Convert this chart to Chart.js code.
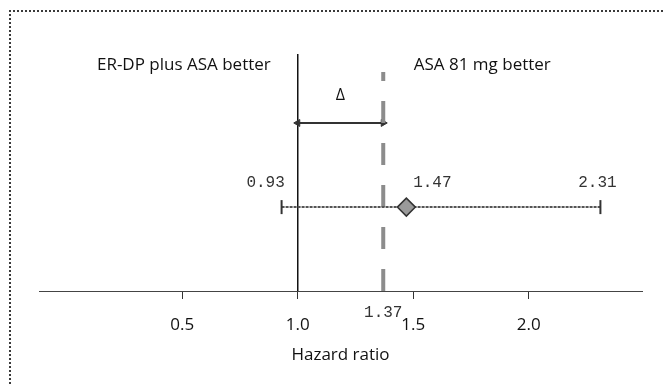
<!DOCTYPE html>
<html>
<head>
<meta charset="utf-8">
<script src="https://cdn.jsdelivr.net/npm/chart.js@4.4.1/dist/chart.umd.min.js"></script>
<style>
    html, body { margin: 0; padding: 0; background: #fff; }
    #wrap { position: relative; width: 665px; height: 385px; overflow: hidden; }
    #frame {
        position: absolute; left: 9px; top: 10px; width: 700px; height: 400px;
        border-top: 2px dotted #3a3a3a; border-left: 2px dotted #3a3a3a;
    }
    canvas { position: absolute; left: 0; top: 0; }
</style>
</head>
<body>
<div id="wrap">
    <div id="frame"></div>
    <canvas id="forestChart" width="665" height="385"></canvas>
</div>
<script>
// ================================
// Data
// ================================

const tickValues = [0.5, 1.0, 1.5, 2.0];

const hazardRatio = [1.47];

const ciBounds = [0.93, 2.31];

const marginValue = [1.37];

const noEffect = [1.0];

const sideLabels = ["ER-DP plus ASA better", "ASA 81 mg better"];

const axisTitle = "Hazard ratio";

const deltaLabel = "\u0394";

// ================================
// Layout (rows on a hidden 0..1 y scale)
// ================================

const ROW_CI = 0.354;
const ROW_ARROW = 0.709;
const DASH_TOP = 0.924;

const textFont = "'Open Sans', 'Noto Sans', sans-serif";
const numFont = "'Liberation Mono', 'DejaVu Sans Mono', monospace";

// ================================
// Labels plugin
// ================================

const labelPlugin = {
    id: "forestLabels",
    afterDatasetsDraw(chart) {
        const ctx = chart.ctx;
        const xs = chart.scales.x;
        const ys = chart.scales.y;
        const area = chart.chartArea;

        const ciY = ys.getPixelForValue(ROW_CI);
        const arrowY = ys.getPixelForValue(ROW_ARROW);
        const refX = xs.getPixelForValue(noEffect[0]);

        ctx.save();
        ctx.textBaseline = "middle";

        // side headers
        ctx.fillStyle = "#111";
        ctx.font = "17px " + textFont;
        ctx.textAlign = "right";
        ctx.fillText(sideLabels[0], refX - 27, area.top + 11);
        ctx.textAlign = "left";
        ctx.fillText(sideLabels[1], refX + 116, area.top + 11);

        // delta
        ctx.textAlign = "center";
        ctx.font = "16px " + textFont;
        const midX = (refX + xs.getPixelForValue(marginValue[0])) / 2;
        ctx.fillText(deltaLabel, midX, arrowY - 28);

        // numbers
        ctx.fillStyle = "#333";
        ctx.font = "16px " + numFont;
        ctx.fillText(ciBounds[0].toFixed(2), xs.getPixelForValue(ciBounds[0]) - 16, ciY - 24);
        ctx.fillText(hazardRatio[0].toFixed(2), xs.getPixelForValue(hazardRatio[0]) + 26, ciY - 24);
        ctx.fillText(ciBounds[1].toFixed(2), xs.getPixelForValue(ciBounds[1]) - 3, ciY - 24);
        ctx.fillText(marginValue[0].toFixed(2), xs.getPixelForValue(marginValue[0]), area.bottom + 22);

        ctx.restore();
    }
};

// ================================
// Chart
// ================================

new Chart(document.getElementById("forestChart"), {

    type: "line",

    data: {

        datasets: [

            {
                label: "Hazard ratio",
                data: hazardRatio.map(v => ({ x: v, y: ROW_CI })),
                showLine: false,
                pointStyle: "rectRot",
                pointRadius: 9,
                pointBackgroundColor: "#9a9a9a",
                pointBorderColor: "#333",
                pointBorderWidth: 1.5
            },

            {
                label: "95% CI",
                data: ciBounds.map(v => ({ x: v, y: ROW_CI })),
                borderColor: "#555",
                borderWidth: 2,
                borderDash: [3, 1],
                pointStyle: "line",
                pointRotation: 90,
                pointRadius: 7,
                pointBorderColor: "#333",
                pointBorderWidth: 2
            },

            {
                label: "Margin",
                data: [{ x: marginValue[0], y: 0 }, { x: marginValue[0], y: DASH_TOP }],
                borderColor: "#8c8c8c",
                borderWidth: 4,
                borderDash: [22, 20],
                pointRadius: 0
            },

            {
                label: "Delta",
                data: [{ x: noEffect[0], y: ROW_ARROW }, { x: marginValue[0], y: ROW_ARROW }],
                borderColor: "#333",
                borderWidth: 2,
                pointStyle: "triangle",
                pointRotation: [-90, 90],
                pointRadius: 4,
                pointBackgroundColor: "#333",
                pointBorderColor: "#333",
                pointBorderWidth: 1
            },

            {
                label: "No effect",
                data: [{ x: noEffect[0], y: 0 }, { x: noEffect[0], y: 1 }],
                borderColor: "#111",
                borderWidth: 1.5,
                pointRadius: 0
            }

        ]

    },

    options: {

        responsive: false,
        animation: false,
        devicePixelRatio: 1,

        layout: { padding: { left: 39, right: 23, top: 54, bottom: 0 } },

        plugins: {
            legend: { display: false },
            tooltip: { enabled: false }
        },

        scales: {

            x: {
                type: "linear",
                min: -0.12,
                max: 2.49,
                afterBuildTicks: s => { s.ticks = tickValues.map(v => ({ value: v })); },
                afterFit: s => { s.height = 94; },
                border: { display: true, color: "#444", width: 1, dash: [4, 2] },
                grid: { display: true, drawOnChartArea: false, drawTicks: true, tickLength: 8, color: "#333", lineWidth: 1 },
                ticks: {
                    padding: 16,
                    color: "#111",
                    font: { family: textFont, size: 17 },
                    maxRotation: 0,
                    autoSkip: false,
                    callback: v => v.toFixed(1)
                },
                title: {
                    display: true,
                    text: axisTitle,
                    color: "#111",
                    font: { family: textFont, size: 17 },
                    padding: { top: 0, bottom: 20 }
                }
            },

            y: {
                type: "linear",
                display: false,
                min: 0,
                max: 1
            }

        }

    },

    plugins: [labelPlugin]

});
</script>
</body>
</html>
